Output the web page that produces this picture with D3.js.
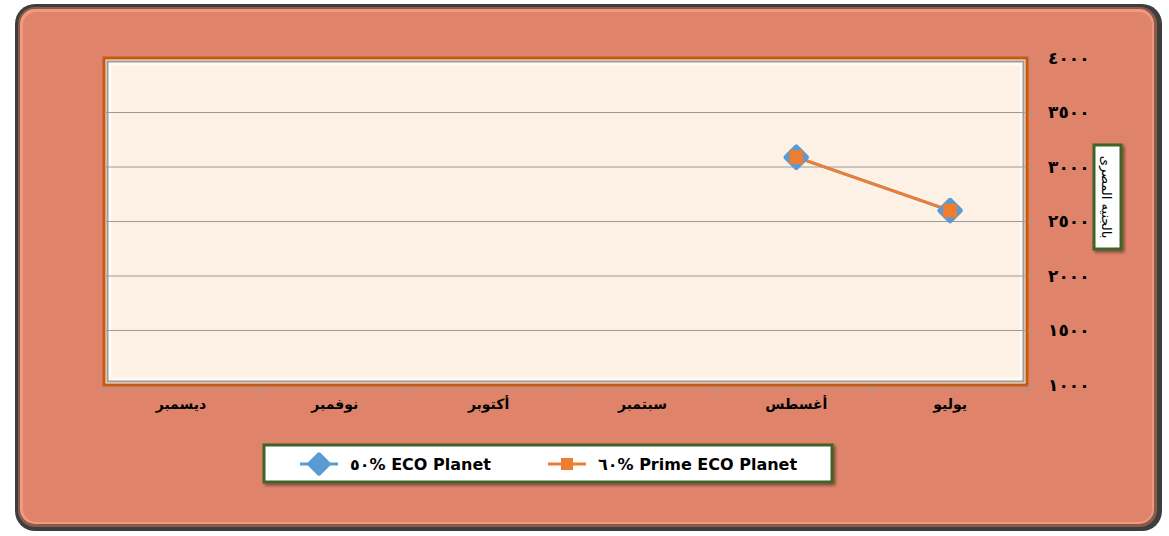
<!DOCTYPE html>
<html>
<head>
<meta charset="utf-8">
<script src="https://cdn.jsdelivr.net/npm/d3@7"></script>
<style>
  body { margin: 0; background: #fff; }
  text { font-family: "DejaVu Sans", "Noto Sans", sans-serif; }
</style>
</head>
<body>
<div id="chart"></div>
<script>
// months, right to left
const months = ["يوليو", "أغسطس", "سبتمبر", "أكتوبر", "نوفمبر", "ديسمبر"];
const eco50 = [2600, 3090, null, null, null, null];
const prime60 = [2600, 3090, null, null, null, null];
const yTicks = [1000, 1500, 2000, 2500, 3000, 3500, 4000];
const seriesNames = ["٥٠% ECO Planet", "٦٠% Prime ECO Planet"];
const yTitle = "بالجنيه المصرى";

const W = 1169, H = 536;
const plot = { left: 104, right: 1027, top: 58, bottom: 385 };

// arabic-indic digits for the ticks
function arabicDigits(n) {
    return String(n).replace(/[0-9]/g, d => "٠١٢٣٤٥٦٧٨٩"[+d]);
}

let svg = d3.select('#chart')
    .append('svg')
    .attr('width', W)
    .attr('height', H);

let defs = svg.append('defs');
let sh = defs.append('filter').attr('id', 'shadow').attr('x', -0.1).attr('y', -0.1).attr('width', 1.3).attr('height', 1.3);
sh.append('feDropShadow').attr('dx', 2).attr('dy', 2).attr('stdDeviation', 1.5).attr('flood-color', '#000').attr('flood-opacity', 0.45);

// outer chart area
svg.append('rect')
    .attr('x', 15).attr('y', 4)
    .attr('width', 1147).attr('height', 527)
    .attr('rx', 20)
    .attr('fill', '#3e3e3e');
svg.append('rect')
    .attr('x', 18).attr('y', 7)
    .attr('width', 1139).attr('height', 520)
    .attr('rx', 17)
    .attr('fill', '#8a5a4a');
svg.append('rect')
    .attr('x', 20).attr('y', 9)
    .attr('width', 1134).attr('height', 515)
    .attr('rx', 15)
    .attr('fill', '#f09a80');
svg.append('rect')
    .attr('x', 23).attr('y', 12)
    .attr('width', 1129).attr('height', 510)
    .attr('rx', 13)
    .attr('fill', '#df846a');

// scales
let xScale = d3.scaleBand()
    .domain(months)
    .range([plot.right, plot.left]);

let yScale = d3.scaleLinear()
    .domain([1000, 4000])
    .range([plot.bottom, plot.top]);

// plot area with bevel
svg.append('rect')
    .attr('x', plot.left).attr('y', plot.top)
    .attr('width', plot.right - plot.left).attr('height', plot.bottom - plot.top)
    .attr('fill', '#fdf0e5')
    .attr('stroke', '#c55a11')
    .attr('stroke-width', 3);
svg.append('rect')
    .attr('x', plot.left + 4).attr('y', plot.top + 4)
    .attr('width', plot.right - plot.left - 8).attr('height', plot.bottom - plot.top - 8)
    .attr('fill', 'none')
    .attr('stroke', '#a39a94')
    .attr('stroke-width', 3);
svg.append('rect')
    .attr('x', plot.left + 6).attr('y', plot.top + 6)
    .attr('width', plot.right - plot.left - 12).attr('height', plot.bottom - plot.top - 12)
    .attr('fill', 'none')
    .attr('stroke', '#fffaf5')
    .attr('stroke-width', 3);

// gridlines
svg.append('g')
    .selectAll('line')
    .data(yTicks.filter(t => t > 1000 && t < 4000))
    .enter()
    .append('line')
    .attr('x1', plot.left + 2).attr('x2', plot.right - 2)
    .attr('y1', d => yScale(d)).attr('y2', d => yScale(d))
    .attr('stroke', '#9a9a9a')
    .attr('stroke-width', 1);

// y axis on the right
let yAxis = svg.append('g')
    .attr('transform', `translate(${plot.right + 1}, 0)`)
    .call(d3.axisRight(yScale).tickValues(yTicks).tickSize(6).tickPadding(14).tickFormat(arabicDigits));
yAxis.select('.domain').remove();
yAxis.selectAll('.tick line').attr('stroke', '#9a9a9a').attr('x1', 0).attr('x2', 6);
yAxis.selectAll('.tick text')
    .attr('font-size', 17)
    .attr('font-weight', 'bold')
    .attr('fill', '#000')
    .attr('direction', 'ltr');

// x axis
let xAxis = svg.append('g')
    .attr('transform', `translate(0, ${plot.bottom + 3})`)
    .call(d3.axisBottom(xScale).tickSize(0).tickPadding(11));
xAxis.select('.domain').attr('stroke', '#9a9a9a').attr('d', `M${plot.left - 1},0H${plot.right + 1}`);
xAxis.selectAll('.tick text')
    .attr('font-size', 14)
    .attr('font-weight', 'bold')
    .attr('fill', '#000');
// tick marks at band edges
xAxis.append('g')
    .selectAll('line')
    .data(months.concat(['end']))
    .enter()
    .append('line')
    .attr('x1', (d, i) => plot.right - i * xScale.step())
    .attr('x2', (d, i) => plot.right - i * xScale.step())
    .attr('y1', 0).attr('y2', 5)
    .attr('stroke', '#9a9a9a');

// lines and markers
let cx = (d, i) => xScale(months[i]) + xScale.bandwidth() / 2;
let line = d3.line()
    .defined(d => d !== null)
    .x(cx)
    .y(d => yScale(d));

svg.append('path')
    .datum(eco50)
    .attr('fill', 'none')
    .attr('stroke', '#5b9bd5')
    .attr('stroke-width', 3)
    .attr('d', line);
svg.append('path')
    .datum(prime60)
    .attr('fill', 'none')
    .attr('stroke', '#ed7d31')
    .attr('stroke-width', 3)
    .attr('d', line);

let diamond = d3.symbol().type(d3.symbolSquare).size(210);
svg.append('g')
    .selectAll('path')
    .data(eco50.map((v, i) => ({ v, i })).filter(d => d.v !== null))
    .enter()
    .append('path')
    .attr('d', diamond)
    .attr('transform', d => `translate(${cx(d.v, d.i)}, ${yScale(d.v)}) rotate(45)`)
    .attr('fill', '#5b9bd5')
    .attr('stroke', '#5b9bd5')
    .attr('stroke-width', 5)
    .attr('stroke-linejoin', 'round');
svg.append('g')
    .selectAll('rect')
    .data(prime60.map((v, i) => ({ v, i })).filter(d => d.v !== null))
    .enter()
    .append('rect')
    .attr('x', d => cx(d.v, d.i) - 7)
    .attr('y', d => yScale(d.v) - 7)
    .attr('width', 14).attr('height', 14)
    .attr('fill', '#ed7d31');

// y axis title box
let tg = svg.append('g').attr('transform', 'translate(1107, 197)');
tg.append('rect')
    .attr('x', -13).attr('y', -52)
    .attr('width', 27).attr('height', 104)
    .attr('fill', '#fff')
    .attr('stroke', '#3f6328')
    .attr('stroke-width', 3)
    .attr('filter', 'url(#shadow)');
tg.append('text')
    .attr('transform', 'rotate(90)')
    .attr('text-anchor', 'middle')
    .attr('dy', '0.35em')
    .attr('font-size', 13)
    .attr('fill', '#000')
    .text(yTitle);

// legend
let lg = svg.append('g').attr('transform', 'translate(264, 445)');
lg.append('rect')
    .attr('width', 568).attr('height', 37)
    .attr('fill', '#fff')
    .attr('stroke', '#3f6328')
    .attr('stroke-width', 3)
    .attr('filter', 'url(#shadow)');

let legendItems = [
    { name: seriesNames[0], color: '#5b9bd5', x: 36, marker: 'diamond' },
    { name: seriesNames[1], color: '#ed7d31', x: 284, marker: 'square' }
];
legendItems.forEach(it => {
    lg.append('line')
        .attr('x1', it.x).attr('x2', it.x + 38)
        .attr('y1', 19).attr('y2', 19)
        .attr('stroke', it.color)
        .attr('stroke-width', 3);
    if (it.marker === 'diamond') {
        lg.append('path')
            .attr('d', d3.symbol().type(d3.symbolSquare).size(190))
            .attr('transform', `translate(${it.x + 19}, 19) rotate(45)`)
            .attr('fill', it.color)
            .attr('stroke', it.color)
            .attr('stroke-width', 4)
            .attr('stroke-linejoin', 'round');
    } else {
        lg.append('rect')
            .attr('x', it.x + 13).attr('y', 13)
            .attr('width', 12).attr('height', 12)
            .attr('fill', it.color);
    }
    lg.append('text')
        .attr('x', it.x + 50).attr('y', 25)
        .attr('direction', 'ltr')
        .attr('font-size', 16)
        .attr('font-weight', 'bold')
        .attr('fill', '#000')
        .text(it.name);
});
</script>
</body>
</html>
